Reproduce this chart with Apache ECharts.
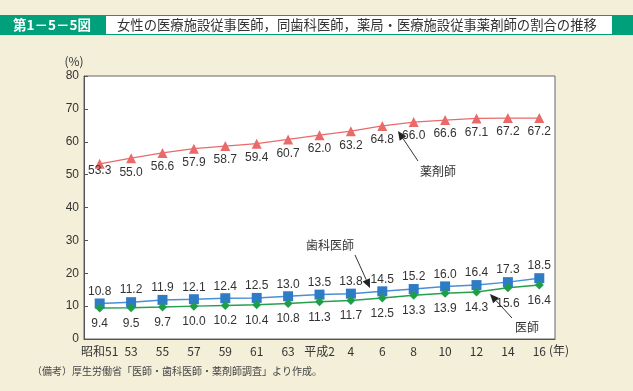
<!DOCTYPE html>
<html><head><meta charset="utf-8">
<script src="https://cdn.jsdelivr.net/npm/echarts@6/dist/echarts.min.js"></script>
<style>html,body{margin:0;padding:0;background:#f3efd9;}#c{width:633px;height:391px;}</style>
</head><body><div id="c"></div>
<script>
var categories = ['昭和51','53','55','57','59','61','63','平成2','4','6','8','10','12','14','16'];
var pharmacists = [53.3,55.0,56.6,57.9,58.7,59.4,60.7,62.0,63.2,64.8,66.0,66.6,67.1,67.2,67.2];
var dentists = [10.8,11.2,11.9,12.1,12.4,12.5,13.0,13.5,13.8,14.5,15.2,16.0,16.4,17.3,18.5];
var doctors = [9.4,9.5,9.7,10.0,10.2,10.4,10.8,11.3,11.7,12.5,13.3,13.9,14.3,15.6,16.4];
var yTicks = [0,10,20,30,40,50,60,70,80];

var FONT = '"Liberation Sans", Arial, sans-serif';
var JP = '"Noto Sans CJK JP", sans-serif';

function arrow(x1,y1,x2,y2){ // head at x2,y2
  var dx=x2-x1, dy=y2-y1, L=Math.sqrt(dx*dx+dy*dy), ux=dx/L, uy=dy/L;
  var hl=9, hw=4;
  var bx=x2-ux*hl, by=y2-uy*hl;
  return [
    {type:'line', shape:{x1:x1,y1:y1,x2:bx,y2:by}, style:{stroke:'#333',lineWidth:1}},
    {type:'polygon', shape:{points:[[x2,y2],[bx-uy*hw,by+ux*hw],[bx+uy*hw,by-ux*hw]]}, style:{fill:'#222'}}
  ];
}

var graphics = [
  {type:'rect', shape:{x:0,y:15,width:633,height:20}, style:{fill:'#00a07a'}},
  {type:'rect', shape:{x:106,y:16,width:506,height:18}, style:{fill:'#ffffff'}},
  {type:'text', x:52, y:25, style:{text:'第1－5－5図', fill:'#fff', font:'bold 13.5px '+JP, textAlign:'center', textVerticalAlign:'middle'}},
  {type:'text', x:117, y:25, scaleX:0.952, style:{text:'女性の医療施設従事医師，同歯科医師，薬局・医療施設従事薬剤師の割合の推移', fill:'#333', font:'14px '+JP, textAlign:'left', textVerticalAlign:'middle'}},
  {type:'text', x:74, y:61, style:{text:'(%)', fill:'#333', font:'12px '+JP, textAlign:'center', textVerticalAlign:'middle'}},
  {type:'text', x:549, y:350, style:{text:'(年)', fill:'#333', font:'12px '+JP, textAlign:'left', textVerticalAlign:'middle'}},
  {type:'text', x:32, y:371, style:{text:'（備考）厚生労働省「医師・歯科医師・薬剤師調査」より作成。', fill:'#444', font:'10px '+JP, textAlign:'left', textVerticalAlign:'middle'}},
  {type:'text', x:330, y:245, style:{text:'歯科医師', fill:'#333', font:'12px '+JP, textAlign:'center', textVerticalAlign:'middle'}},
  {type:'text', x:527, y:327, style:{text:'医師', fill:'#333', font:'12px '+JP, textAlign:'center', textVerticalAlign:'middle'}},
  {type:'text', x:438, y:171, style:{text:'薬剤師', fill:'#333', font:'12px '+JP, textAlign:'center', textVerticalAlign:'middle'}}
].concat(arrow(355,255,370,288)).concat(arrow(512,318,490,294)).concat(arrow(418,161,398,131));

function fmt(p){return p.value.toFixed(1);}
var pharmData = pharmacists.map(function(v,i){
  return i===0 ? {value:v, label:{distance:-4}} : v;
});

var chart = echarts.init(document.getElementById('c'), null, {renderer:'canvas'});
chart.setOption({
  backgroundColor:'#f3efd9',
  animation:false,
  grid:{left:84, right:78, top:76, bottom:52, show:true, backgroundColor:'#fff', borderColor:'#666', borderWidth:1},
  xAxis:{type:'category', data:categories, boundaryGap:true,
    axisLine:{lineStyle:{color:'#555'}},
    axisTick:{inside:true, length:4, lineStyle:{color:'#555'}},
    axisLabel:{color:'#333', fontSize:12, fontFamily:JP, margin:6, interval:0}},
  yAxis:{type:'value', min:yTicks[0], max:yTicks[yTicks.length-1], interval:10,
    axisLine:{show:true, lineStyle:{color:'#555'}},
    axisTick:{show:true, inside:true, length:4, lineStyle:{color:'#555'}},
    splitLine:{show:false},
    axisLabel:{color:'#333', fontSize:12, fontFamily:FONT, margin:5}},
  series:[
    {name:'薬剤師', type:'line', data:pharmData, symbol:'triangle', symbolSize:10,
     lineStyle:{color:'#ea6a6a', width:1.3}, itemStyle:{color:'#ea6a6a'},
     label:{show:true, position:'bottom', distance:3, color:'#333', fontSize:12, fontFamily:FONT, formatter:fmt}},
    {name:'歯科医師', type:'line', data:dentists, symbol:'rect', symbolSize:10,
     lineStyle:{color:'#4a8fd6', width:1.5}, itemStyle:{color:'#2f7cc6'},
     label:{show:true, position:'top', distance:1, color:'#333', fontSize:12, fontFamily:FONT, formatter:fmt}},
    {name:'医師', type:'line', data:doctors, symbol:'diamond', symbolSize:9,
     lineStyle:{color:'#26a04c', width:1.5}, itemStyle:{color:'#1f9e48'},
     label:{show:true, position:'bottom', distance:5, color:'#333', fontSize:12, fontFamily:FONT, formatter:fmt}}
  ],
  graphic:graphics
});
</script></body></html>
